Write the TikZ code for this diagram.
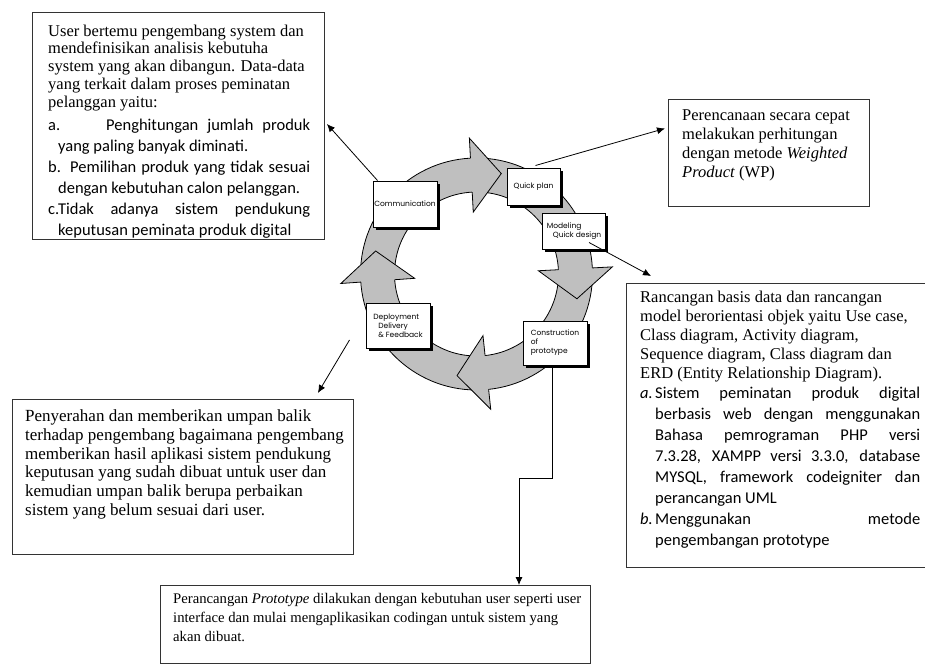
\documentclass[tikz,border=0pt]{standalone}
\usepackage{fontspec}
\setmainfont{Liberation Serif}
\newfontfamily\calibri{Carlito}
\newfontfamily\phasefont{Poppins}
\usetikzlibrary{arrows.meta}
\usetikzlibrary{shadows}

\begin{document}
\begin{tikzpicture}[x=1pt, y=1pt]
    \tikzset{textbox/.style = {draw=black!80, line width=0.9pt, anchor=north west, inner sep=0pt}}
    \tikzset{txt/.style = {anchor=north west, inner sep=0pt, align=left, font=\fontsize{16.5}{17.8}\selectfont}}
    \tikzset{lst/.style = {anchor=north west, inner sep=0pt, align=left, font=\calibri\fontsize{16.5}{21}\selectfont}}
    \tikzset{phase/.style = {draw, fill=white, line width=1pt, inner sep=0pt, align=left,
        font=\phasefont\fontsize{7.5}{9}\selectfont,
        drop shadow={shadow xshift=2.5pt, shadow yshift=-2.5pt, fill=black, opacity=1}}}
    \tikzset{band/.style = {fill=black!25, draw, line width=0.8pt}}
    \tikzset{edge/.style = {-{Latex[length=8pt,width=7pt]}, line width=0.8pt}}

    \useasboundingbox (0,0) rectangle (925,-671);

    % cycle
    \begin{scope}[shift={(476.5,-274)}]
      \path[band, even odd rule] (0,0) circle[radius=116] (0,0) circle[radius=82];
      \foreach \a in {93,3,-84,184}{
        \fill[black!25, rotate=\a] (116,0) -- (136,0) -- (99,-30) -- (62,0) -- (82,0) -- cycle;
        \draw[line width=0.8pt, rotate=\a] (116,0) -- (136,0) -- (99,-30) -- (62,0) -- (82,0);
      }
    \end{scope}

    % phases
    \node[phase, minimum width=64pt, minimum height=46pt] (comm) at (405,-204) {Communication};
    \node[phase, minimum width=53pt, minimum height=36pt] (qplan) at (533.5,-187) {Quick plan};
    \node[phase, minimum width=63pt, minimum height=36pt] (model) at (574,-231) {Modeling\\\hspace*{6pt}Quick design};
    \node[phase, minimum width=64pt, minimum height=44pt] (cons) at (555,-343) {Construction\\of\\prototype};
    \node[phase, minimum width=64pt, minimum height=45pt] (deploy) at (398,-326) {Deployment\\\hspace*{5pt}Delivery\\\hspace*{5pt}\& Feedback};

    % boxes
    \node[textbox, minimum width=292pt, minimum height=227pt] (tlbox) at (32,-12) {};
    \node[textbox, minimum width=201pt, minimum height=107pt] (trbox) at (668,-99) {};
    \node[textbox, minimum width=300pt, minimum height=284pt] (rbox) at (626,-283) {};
    \node[textbox, minimum width=341pt, minimum height=155pt] (blbox) at (12,-399) {};
    \node[textbox, minimum width=430pt, minimum height=78pt] (bbox) at (160,-585) {};

    % texts
    \node[txt] (tltext) at (48,-24.5) {User bertemu pengembang system dan\\
      mendefinisikan analisis kebutuha\\
      system yang akan dibangun. Data-data\\
      yang terkait dalam proses peminatan\\
      pelanggan yaitu:};
    \begin{scope}
      \clip (tlbox.north west) rectangle (tlbox.south east);
      \node[lst] (tllist) at (48,-119) {\makebox[58pt][l]{a.}\makebox[204pt][s]{Penghitungan jumlah produk}\\
        \hspace*{10pt}yang paling banyak diminati.\\
        \makebox[22pt][l]{b.}\makebox[240pt][s]{Pemilihan produk yang tidak sesuai}\\
        \hspace*{10pt}dengan kebutuhan calon pelanggan.\\
        \makebox[262pt][s]{c.Tidak adanya sistem pendukung}\\
        \hspace*{10pt}keputusan peminata produk digital};
    \end{scope}
    \node[txt, font=\fontsize{16.5}{19}\selectfont] (trtext) at (682,-109.5) {Perencanaan secara cepat\\
      melakukan perhitungan\\
      dengan metode \textit{Weighted}\\
      \textit{Product} (WP)};
    \node[txt, font=\fontsize{16.5}{19}\selectfont] (rtext) at (640,-290.5) {Rancangan basis data dan rancangan\\
      model berorientasi objek yaitu Use case,\\
      Class diagram, Activity diagram,\\
      Sequence diagram, Class diagram dan\\
      ERD (Entity Relationship Diagram).};
    \node[lst] (rlist) at (640,-387) {\makebox[15pt][l]{\textit{a.}}\makebox[265pt][s]{Sistem peminatan produk digital}\\
      \hspace*{15pt}\makebox[265pt][s]{berbasis web dengan menggunakan}\\
      \hspace*{15pt}\makebox[265pt][s]{Bahasa pemrograman PHP versi}\\
      \hspace*{15pt}\makebox[265pt][s]{7.3.28, XAMPP versi 3.3.0, database}\\
      \hspace*{15pt}\makebox[265pt][s]{MYSQL, framework codeigniter dan}\\
      \hspace*{15pt}perancangan UML\\
      \makebox[15pt][l]{\textit{b.}}\makebox[265pt][s]{Menggunakan metode}\\
      \hspace*{15pt}pengembangan prototype};
    \node[txt, font=\fontsize{17}{18.8}\selectfont] (bltext) at (25,-409.5) {Penyerahan dan memberikan umpan balik\\
      terhadap pengembang bagaimana pengembang\\
      memberikan hasil aplikasi sistem pendukung\\
      keputusan yang sudah dibuat untuk user dan\\
      kemudian umpan balik berupa perbaikan\\
      sistem yang belum sesuai dari user.};
    \node[txt, font=\fontsize{14.7}{19}\selectfont] (btext) at (173,-593.5) {Perancangan \textit{Prototype} dilakukan dengan kebutuhan user seperti user\\
      interface dan mulai mengaplikasikan codingan untuk sistem yang\\
      akan dibuat.};

    % edges
    \coordinate (dstart) at ([xshift=-16pt,yshift=-14pt]deploy.west);
    \coordinate (elbow) at (519,-478);
    \draw[edge] ([xshift=5pt]comm.north west) -- ([xshift=2pt,yshift=2pt]tlbox.east);
    \draw[edge] ([xshift=2pt,yshift=3pt]qplan.north) -- ([xshift=-3pt,yshift=24.5pt]trbox.west);
    \draw[edge] ([xshift=-17pt,yshift=7pt]model.south east) -- ([xshift=25pt,yshift=7pt]rbox.north west);
    \draw[edge] (dstart) -- ([xshift=-36pt,yshift=6pt]blbox.north east);
    \draw[edge] ([xshift=-3pt]cons.south) |- (elbow) -- (elbow |- bbox.north);
\end{tikzpicture}
\end{document}
